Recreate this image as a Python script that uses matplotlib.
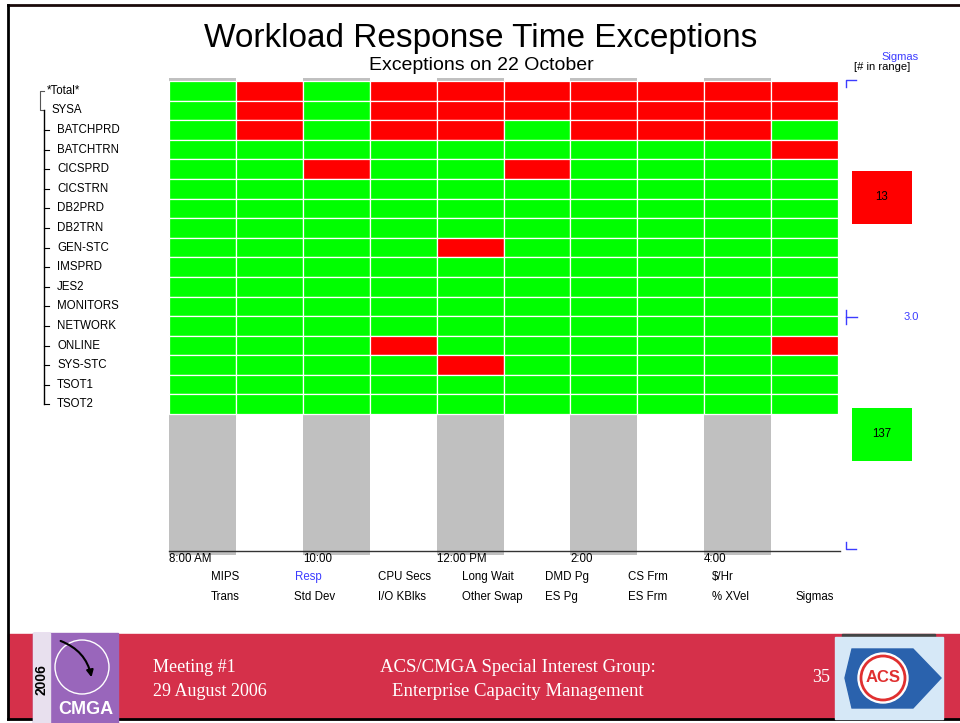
import matplotlib
matplotlib.use('Agg')
import matplotlib.pyplot as plt
import matplotlib.transforms as mtransforms
from matplotlib.patches import Rectangle, Circle, Polygon, FancyArrowPatch

plt.rcParams['font.family'] = ['Liberation Sans', 'DejaVu Sans']

# data
workloads = ['*Total*', 'SYSA', 'BATCHPRD', 'BATCHTRN', 'CICSPRD', 'CICSTRN', 'DB2PRD',
             'DB2TRN', 'GEN-STC', 'IMSPRD', 'JES2', 'MONITORS', 'NETWORK', 'ONLINE',
             'SYS-STC', 'TSOT1', 'TSOT2']
# one string per workload, one letter per slot: R = exception, G = ok
status = ['GRGRRRRRRR',
          'GRGRRRRRRR',
          'GRGRRGRRRG',
          'GGGGGGGGGR',
          'GGRGGRGGGG',
          'GGGGGGGGGG',
          'GGGGGGGGGG',
          'GGGGGGGGGG',
          'GGGGRGGGGG',
          'GGGGGGGGGG',
          'GGGGGGGGGG',
          'GGGGGGGGGG',
          'GGGGGGGGGG',
          'GGGRGGGGGR',
          'GGGGRGGGGG',
          'GGGGGGGGGG',
          'GGGGGGGGGG']
time_ticks = [0, 2, 4, 6, 8]
time_labels = ['8:00 AM', '10:00', '12:00 PM', '2:00', '4:00']
metrics_top = ['MIPS', 'Resp', 'CPU Secs', 'Long Wait', 'DMD Pg', 'CS Frm', '$/Hr']
metrics_bottom = ['Trans', 'Std Dev', 'I/O KBlks', 'Other Swap', 'ES Pg', 'ES Frm', '% XVel', 'Sigmas']
sigma_threshold = 3.0
sigma_counts = [13, 137]   # above / below threshold

W, H = 960, 723
RED = '#ff0000'
GREEN = '#00ff00'
GRAY = '#c0c0c0'
BLUE = '#3c3cff'
BAND = '#d5304a'
FS = 8.3


def px_rect(x0, y0, x1, y1):
    return [x0 / W, 1 - y1 / H, (x1 - x0) / W, (y1 - y0) / H]


fig = plt.figure(figsize=(W / 100, H / 100), dpi=100)
bg = fig.add_axes([0, 0, 1, 1])
bg.set_xlim(0, W)
bg.set_ylim(H, 0)
bg.axis('off')

ax = fig.add_axes(px_rect(169, 78, 838, 555))
ax.set_facecolor('none')
ncols = len(status[0])
nrows = len(workloads)
ax.set_xlim(0, ncols)
ax.set_ylim(24.19, -0.15)
for s in ax.spines.values():
    s.set_visible(False)
ax.set_xticks([])
ax.set_yticks([])

# alternating gray hour bands
for c in range(0, ncols, 2):
    ax.bar(c + 0.5, 24.34, width=1, bottom=-0.15, color=GRAY, zorder=1)

# exception cells
for i, row in enumerate(status):
    cols = [RED if ch == 'R' else GREEN for ch in row]
    ax.barh(i + 0.5, 1, left=range(ncols), height=1, color=cols,
            edgecolor='white', linewidth=0.9, zorder=2)

ax.plot([0, ncols * 1.003], [24, 24], color='#333333', lw=1, clip_on=False, zorder=3)
for t, lab in zip(time_ticks, time_labels):
    ax.text(t, 24.4, lab, ha='left', va='center', fontsize=FS)

# metric legend under the axis
for k, lab in enumerate(metrics_top):
    bg.text(211 + 83.5 * k, 577, lab, ha='left', va='center', fontsize=FS,
            color=BLUE if lab == 'Resp' else 'black')
for k, lab in enumerate(metrics_bottom):
    bg.text(211 + 83.5 * k, 597, lab, ha='left', va='center', fontsize=FS)

# workload tree on the left
tr = mtransforms.blended_transform_factory(bg.transData, ax.transData)
for i, name in enumerate(workloads):
    x = 47 if i == 0 else (52 if i == 1 else 57)
    bg.text(x, i + 0.5, name, transform=tr, ha='left', va='center', fontsize=FS)
bg.plot([44, 40, 40, 44], [0.5, 0.5, 1.5, 1.5], transform=tr, color='#555555', lw=0.8)
bg.plot([44, 44], [1.5, nrows - 0.5], transform=tr, color='black', lw=1)
for i in range(2, nrows):
    bg.plot([44, 49], [i + 0.5, i + 0.5], transform=tr, color='black', lw=0.8)

# titles
bg.text(481, 38, 'Workload Response Time Exceptions', ha='center', va='center', fontsize=24)
bg.text(481, 66, 'Exceptions on 22 October', ha='center', va='center', fontsize=14)

# sigma legend on the right
bg.text(900, 57, 'Sigmas', ha='center', va='center', fontsize=8, color=BLUE)
bg.text(882, 67, '[# in range]', ha='center', va='center', fontsize=8)
bg.plot([856, 846, 846], [80, 80, 87], color=BLUE, lw=1)
bg.plot([846, 846], [310, 324], color=BLUE, lw=1)
bg.plot([846, 857], [317, 317], color=BLUE, lw=1)
bg.plot([846, 846, 856], [542, 549, 549], color=BLUE, lw=1)
bg.text(911, 317, f'{sigma_threshold:.1f}', ha='center', va='center', fontsize=8, color=BLUE)
box_y = [197, 434]
box_c = [RED, GREEN]
bg.bar([882, 882], [53, 53], width=60, bottom=[y - 26 for y in box_y], color=box_c)
for y, n in zip(box_y, sigma_counts):
    bg.text(882, y, str(n), ha='center', va='center', fontsize=FS)

# slide footer
bg.add_patch(Rectangle((8, 634), 952, 85, color=BAND, zorder=1))
bg.plot([8, 960], [5, 5], color='#1a0a0a', lw=2)
bg.plot([8, 8], [5, 719], color='black', lw=2)
bg.plot([8, 960], [719, 719], color='black', lw=2)
serif = ['Liberation Serif', 'DejaVu Serif']
bg.text(153, 668, 'Meeting #1', ha='left', va='center', fontsize=13, color='white', family=serif)
bg.text(153, 691, '29 August 2006', ha='left', va='center', fontsize=13, color='white', family=serif)
bg.text(518, 668, 'ACS/CMGA Special Interest Group:', ha='center', va='center', fontsize=13.5,
        color='white', family=serif)
bg.text(518, 691, 'Enterprise Capacity Management', ha='center', va='center', fontsize=13.5,
        color='white', family=serif)
bg.text(821, 678, '35', ha='center', va='center', fontsize=13, color='white', family=serif)

# CMGA logo
bg.add_patch(Rectangle((33, 633), 85, 90, color='#9966bb', zorder=2))
bg.add_patch(Rectangle((33, 633), 17, 90, color='#e8e0ee', zorder=2))
bg.add_patch(Circle((82, 667), 27, fill=False, ec='white', lw=1, zorder=3))
bg.add_patch(FancyArrowPatch((58, 640), (92, 680), connectionstyle='arc3,rad=-0.3',
                             arrowstyle='-|>', mutation_scale=10, color='black', lw=1.5, zorder=4))
bg.text(41, 680, '2006', rotation=90, ha='center', va='center', fontsize=10,
        fontweight='bold', zorder=4)
bg.text(86, 709, 'CMGA', ha='center', va='center', fontsize=13, fontweight='bold',
        color='white', zorder=4)

# ACS logo
bg.add_patch(Rectangle((842, 634), 93, 3, color='#444444', zorder=2))
bg.add_patch(Rectangle((835, 637), 108, 82, color='#d6e8f7', zorder=2))
bg.add_patch(Polygon([[852, 649], [913, 649], [941, 678], [913, 708], [852, 708],
                      [845, 678]], closed=True, color='#2a62ad', zorder=3))
bg.add_patch(Circle((883, 678), 25, color='white', zorder=4))
bg.add_patch(Circle((883, 678), 22, fill=False, ec='#e03030', lw=2, zorder=5))
bg.text(883, 678, 'ACS', ha='center', va='center', fontsize=12, fontweight='bold',
        color='#e03030', zorder=6)

fig.savefig('out.png', dpi=100)
